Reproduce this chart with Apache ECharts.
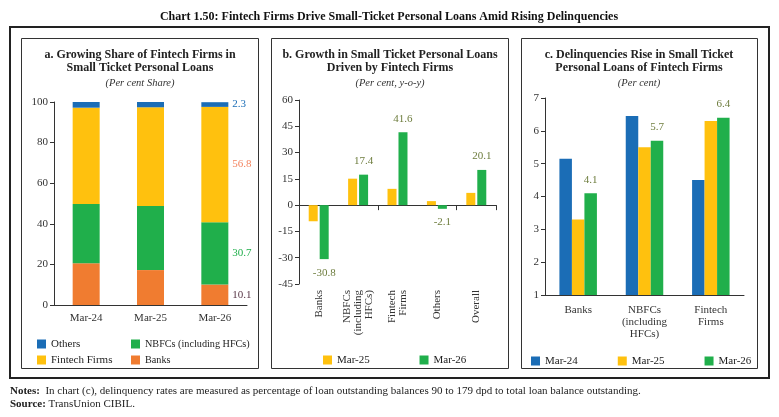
<!DOCTYPE html>
<html>
<head>
<meta charset="utf-8">
<script src="https://cdn.jsdelivr.net/npm/echarts@6/dist/echarts.min.js"></script>
<style>
  html, body { margin: 0; padding: 0; background: #fff; }
  #chart { width: 779px; height: 417px; }
</style>
</head>
<body>
<div id="chart"></div>
<script>
// panel a: share (per cent)
const shareCats = ['Mar-24', 'Mar-25', 'Mar-26']
const shareBanks = [20.6, 17.2, 10.1]
const shareNbfc = [29.1, 31.6, 30.7]
const shareFintech = [47.5, 48.6, 56.8]
const shareOthers = [2.8, 2.6, 2.3]

// panel b: growth y-o-y
const growthCats = ['Banks', 'NBFCs\n(including\nHFCs)', 'Fintech\nFirms', 'Others', 'Overall']
const growthMar25 = [-9.2, 15.1, 9.3, 2.3, 7.0]
const growthMar26 = [-30.8, 17.4, 41.6, -2.1, 20.1]

// panel c: delinquencies
const delinqCats = ['Banks', 'NBFCs\n(including\nHFCs)', 'Fintech\nFirms']
const delinqMar24 = [5.15, 6.45, 4.5]
const delinqMar25 = [3.3, 5.5, 6.3]
const delinqMar26 = [4.1, 5.7, 6.4]

const BLUE = '#1B6DB6'
const GREEN = '#20AF4B'
const YELLOW = '#FFC10E'
const ORANGE = '#F07C30'
const FONT = 'Liberation Serif'
const AXIS = '#333'
const VAL = '#6E7D3E'

const chart = echarts.init(document.getElementById('chart'))

function yAxisBase(grid, min, max, interval) {
  return {
    type: 'value', gridIndex: grid, min: min, max: max, interval: interval,
    axisLine: { show: true, lineStyle: { color: AXIS } },
    axisTick: { show: true, length: 4, lineStyle: { color: AXIS } },
    axisLabel: { color: AXIS, fontFamily: FONT, fontSize: 11, margin: 6 },
    splitLine: { show: false }
  }
}

function lastLabel(arr, color) {
  return arr.map((v, i) => i === arr.length - 1
    ? { value: v, label: { show: true, position: 'right', distance: 4, color: color, fontFamily: FONT, fontSize: 11 } }
    : v)
}

function panelTitle(cx, line1, line2, sub) {
  return [
    { type: 'text', x: cx, y: 55, style: { text: line1, fontFamily: FONT, fontWeight: 'bold', fontSize: 12, fill: '#222', align: 'center', verticalAlign: 'middle' } },
    { type: 'text', x: cx, y: 68, style: { text: line2, fontFamily: FONT, fontWeight: 'bold', fontSize: 12, fill: '#222', align: 'center', verticalAlign: 'middle' } },
    { type: 'text', x: cx, y: 83, style: { text: sub, fontFamily: FONT, fontStyle: 'italic', fontSize: 10.5, fill: '#333', align: 'center', verticalAlign: 'middle' } }
  ]
}

const legendText = { color: '#222', fontFamily: FONT, fontSize: 11, lineHeight: 12 }

const option = {
  backgroundColor: '#fff',
  animation: false,
  graphic: [
    { type: 'text', x: 389, y: 17, style: { text: 'Chart 1.50: Fintech Firms Drive Small-Ticket Personal Loans Amid Rising Delinquencies', fontFamily: FONT, fontWeight: 'bold', fontSize: 12, fill: '#111', align: 'center', verticalAlign: 'middle' } },
    { type: 'rect', shape: { x: 10, y: 27, width: 759, height: 351 }, style: { fill: 'none', stroke: '#222', lineWidth: 2 } },
    { type: 'rect', shape: { x: 21.5, y: 38.5, width: 237, height: 330 }, style: { fill: 'none', stroke: '#333', lineWidth: 1 } },
    { type: 'rect', shape: { x: 271.5, y: 38.5, width: 237, height: 330 }, style: { fill: 'none', stroke: '#333', lineWidth: 1 } },
    { type: 'rect', shape: { x: 521.5, y: 38.5, width: 236, height: 330 }, style: { fill: 'none', stroke: '#333', lineWidth: 1 } },
    ...panelTitle(140, 'a. Growing Share of Fintech Firms in', 'Small Ticket Personal Loans', '(Per cent Share)'),
    ...panelTitle(390, 'b. Growth in Small Ticket Personal Loans', 'Driven by Fintech Firms', '(Per cent, y-o-y)'),
    ...panelTitle(639, 'c. Delinquencies Rise in Small Ticket', 'Personal Loans of Fintech Firms', '(Per cent)'),
    {
      type: 'text', x: 10, y: 391,
      style: {
        text: '{b|Notes:}  In chart (c), delinquency rates are measured as percentage of loan outstanding balances 90 to 179 dpd to total loan balance outstanding.',
        rich: { b: { fontWeight: 'bold', fontFamily: FONT, fontSize: 11 } },
        fontFamily: FONT, fontSize: 11, fill: '#222', verticalAlign: 'middle'
      }
    },
    {
      type: 'text', x: 10, y: 404,
      style: {
        text: '{b|Source:} TransUnion CIBIL.',
        rich: { b: { fontWeight: 'bold', fontFamily: FONT, fontSize: 11 } },
        fontFamily: FONT, fontSize: 11, fill: '#222', verticalAlign: 'middle'
      }
    }
  ],
  legend: [
    { orient: 'vertical', left: 32, top: 333, itemWidth: 9, itemHeight: 9, itemGap: 4, icon: 'rect', textStyle: legendText, data: ['Others', 'Fintech Firms'] },
    { orient: 'vertical', left: 126, top: 333, itemWidth: 9, itemHeight: 9, itemGap: 4, icon: 'rect', textStyle: { color: '#222', fontFamily: FONT, fontSize: 10.2, lineHeight: 12 }, data: ['NBFCs (including HFCs)', 'Banks'] },
    { orient: 'horizontal', left: 318, top: 349, itemWidth: 9, itemHeight: 9, itemGap: 47, icon: 'rect', textStyle: legendText, data: ['Mar-25 ', 'Mar-26 '] },
    { orient: 'horizontal', left: 526, top: 350, itemWidth: 9, itemHeight: 9, itemGap: 40, icon: 'rect', textStyle: legendText, data: ['Mar-24', 'Mar-25', 'Mar-26'] }
  ],
  grid: [
    { left: 54, top: 102, width: 193, height: 203 },
    { left: 299, top: 100, width: 197, height: 184 },
    { left: 545, top: 98, width: 199, height: 197 }
  ],
  xAxis: [
    {
      type: 'category', gridIndex: 0, data: shareCats,
      axisLine: { lineStyle: { color: AXIS } },
      axisTick: { length: 5, lineStyle: { color: AXIS } },
      axisLabel: { color: AXIS, fontFamily: FONT, fontSize: 11, margin: 8 }
    },
    {
      type: 'category', gridIndex: 1, data: growthCats, position: 'bottom',
      axisLine: { show: false, onZero: false },
      axisTick: { show: false },
      axisLabel: { color: AXIS, fontFamily: FONT, fontSize: 11, rotate: 90, margin: 6, lineHeight: 11 }
    },
    {
      type: 'category', gridIndex: 1, data: growthCats, position: 'top',
      axisLine: { show: true, onZero: true, lineStyle: { color: AXIS } },
      axisTick: { show: true, inside: true, length: 5, lineStyle: { color: AXIS } },
      axisLabel: { show: false }
    },
    {
      type: 'category', gridIndex: 2, data: delinqCats,
      axisLine: { lineStyle: { color: AXIS } },
      axisTick: { length: 5, lineStyle: { color: AXIS } },
      axisLabel: { color: AXIS, fontFamily: FONT, fontSize: 11, margin: 9, lineHeight: 12 }
    }
  ],
  yAxis: [
    yAxisBase(0, 0, 100, 20),
    yAxisBase(1, -45, 60, 15),
    yAxisBase(2, 1, 7, 1)
  ],
  series: [
    { name: 'Banks', type: 'bar', stack: 'a', xAxisIndex: 0, yAxisIndex: 0, barWidth: 27, itemStyle: { color: ORANGE }, data: lastLabel(shareBanks, '#5A3848') },
    { name: 'NBFCs (including HFCs)', type: 'bar', stack: 'a', xAxisIndex: 0, yAxisIndex: 0, barWidth: 27, itemStyle: { color: GREEN }, data: lastLabel(shareNbfc, GREEN) },
    { name: 'Fintech Firms', type: 'bar', stack: 'a', xAxisIndex: 0, yAxisIndex: 0, barWidth: 27, itemStyle: { color: YELLOW }, data: lastLabel(shareFintech, '#F4845F') },
    { name: 'Others', type: 'bar', stack: 'a', xAxisIndex: 0, yAxisIndex: 0, barWidth: 27, itemStyle: { color: BLUE }, data: lastLabel(shareOthers, BLUE) },

    { name: 'Mar-25 ', type: 'bar', xAxisIndex: 1, yAxisIndex: 1, barWidth: 9, barGap: '22%', itemStyle: { color: YELLOW }, data: growthMar25 },
    {
      name: 'Mar-26 ', type: 'bar', xAxisIndex: 1, yAxisIndex: 1, barWidth: 9, barGap: '22%', itemStyle: { color: GREEN }, data: growthMar26,
      label: { show: true, position: 'outside', distance: 8, color: VAL, fontFamily: FONT, fontSize: 11 }
    },

    { name: 'Mar-24', type: 'bar', xAxisIndex: 3, yAxisIndex: 2, barWidth: 12.5, barGap: 0, itemStyle: { color: BLUE }, data: delinqMar24 },
    { name: 'Mar-25', type: 'bar', xAxisIndex: 3, yAxisIndex: 2, barWidth: 12.5, barGap: 0, itemStyle: { color: YELLOW }, data: delinqMar25 },
    {
      name: 'Mar-26', type: 'bar', xAxisIndex: 3, yAxisIndex: 2, barWidth: 12.5, barGap: 0, itemStyle: { color: GREEN }, data: delinqMar26,
      label: { show: true, position: 'top', distance: 8, color: VAL, fontFamily: FONT, fontSize: 11 }
    }
  ]
}

chart.setOption(option)
</script>
</body>
</html>
